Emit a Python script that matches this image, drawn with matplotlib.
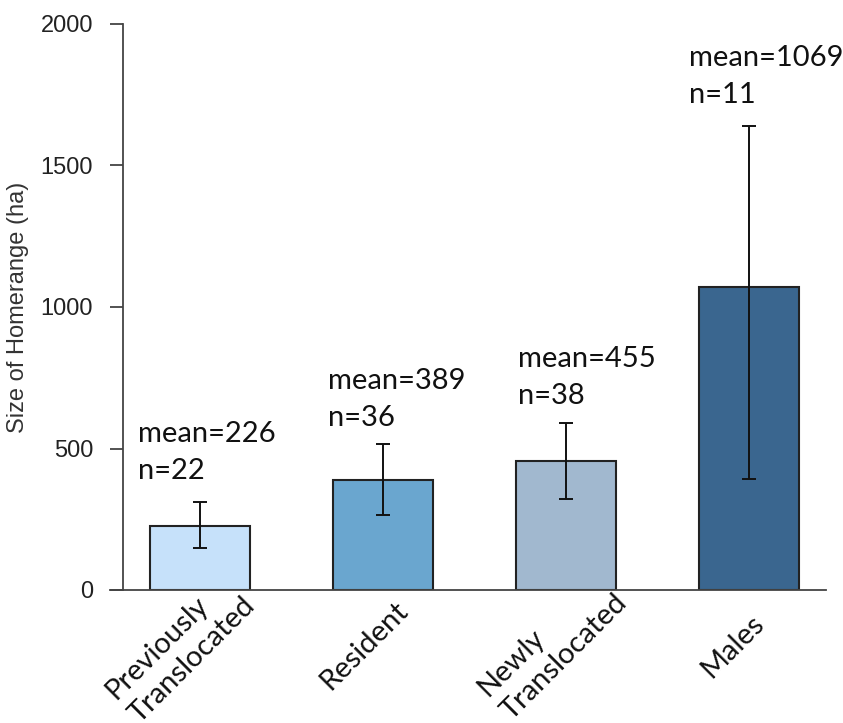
import matplotlib
matplotlib.use('Agg')
import matplotlib.pyplot as plt
import numpy as np

# data
groups = ['Previously\nTranslocated', 'Resident', 'Newly\nTranslocated', 'Males']
means = [226, 389, 455, 1069]
err_low = [78, 124, 133, 677]
err_high = [85, 127, 135, 571]
counts = [22, 36, 38, 11]
colors = ['#C6E1FA', '#6AA6CF', '#A1B8CF', '#3A668F']

# where the "mean=..\nn=.." labels sit (data coords)
label_y = [523, 710, 788, 1852]
label_dx = [-0.34, -0.30, -0.26, -0.33]
# pixel offsets of the rotated category labels
tick_off = [(39, 0), (21, -16), (45, 3), (11, -29)]

W, H = 843, 723
fig = plt.figure(figsize=(W / 100, H / 100), dpi=100)
ax = fig.add_axes([110 / W, (H - 590) / H, (826 - 110) / W, (590 - 24) / H])

x = np.arange(len(groups))
ax.bar(x, means, width=0.55, color=colors, edgecolor='#222222', linewidth=1.5, zorder=2)
ax.errorbar(x, means, yerr=[err_low, err_high], fmt='none', ecolor='#111111',
            elinewidth=1.4, capsize=5, capthick=1.4, zorder=3)

for i in range(len(groups)):
    ax.text(x[i] + label_dx[i], label_y[i], 'mean=%d' % means[i], fontsize=21,
            family='Lato', ha='left', va='baseline', color='#111111')
    ax.text(x[i] + label_dx[i], label_y[i] - 131, 'n=%d' % counts[i], fontsize=21,
            family='Lato', ha='left', va='baseline', color='#111111')
    ax.annotate(groups[i], xy=(x[i], 0), xycoords=('data', 'axes fraction'),
                xytext=tick_off[i], textcoords='offset pixels',
                rotation=45, rotation_mode='anchor', ha='right', va='center',
                multialignment='left', linespacing=1.35, fontsize=21, family='Lato',
                color='#111111', annotation_clip=False)

ax.set_xlim(-0.492, 3.421)
ax.set_ylim(0, 2000)
ax.spines['top'].set_visible(False)
ax.spines['right'].set_visible(False)
ax.spines['left'].set_position(('data', -0.421))
ax.spines['left'].set_color('#444444')
ax.spines['bottom'].set_color('#444444')
ax.spines['left'].set_linewidth(1.3)
ax.spines['bottom'].set_linewidth(1.3)

ax.set_yticks([0, 500, 1000, 1500, 2000])
ax.tick_params(axis='y', length=9.5, width=1.3, color='#444444', pad=12,
               labelsize=17, labelcolor='#222222')
for t in ax.get_yticklabels():
    t.set_family('Liberation Sans')

ax.set_xticks(x)
ax.set_xticklabels([])
ax.tick_params(axis='x', length=0)

fig.text(18 / W, 1 - 307 / H, 'Size of Homerange (ha)', rotation=90, ha='center',
         va='center', fontsize=17, family='Liberation Sans', color='#333333')

fig.savefig('out.png', dpi=100)
